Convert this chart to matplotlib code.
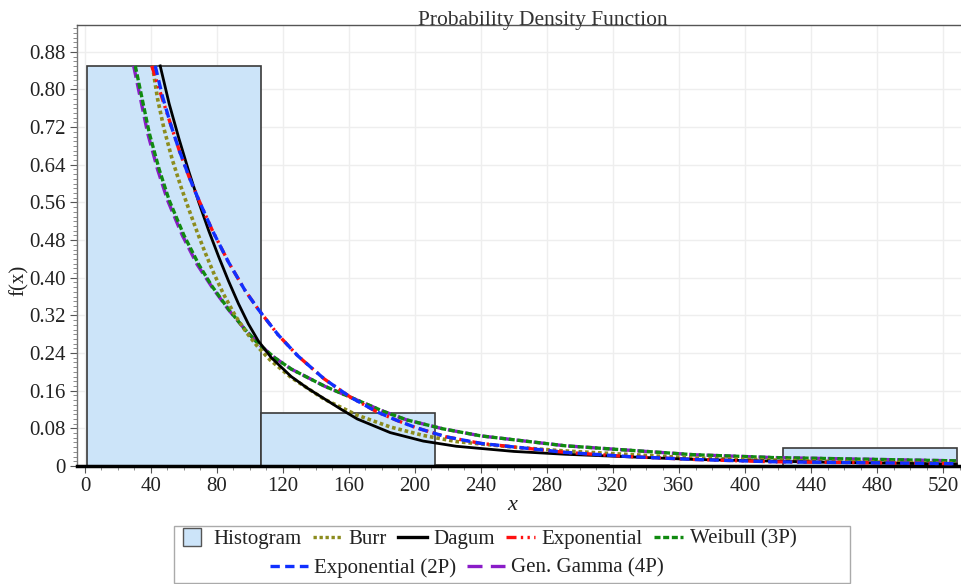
import matplotlib
matplotlib.use("Agg")
import matplotlib.pyplot as plt
from matplotlib.patches import Rectangle
from matplotlib.lines import Line2D
from matplotlib.ticker import MultipleLocator, FuncFormatter

# ---------------- data ----------------
bin_edges = [1.0, 106.5, 212.0, 317.5, 423.0, 528.5]
bin_heights = [0.850, 0.1135, 0.003, 0.0, 0.038]

burr_x = [40.9, 44, 48, 53, 58, 63, 68, 73, 78, 84, 91, 98, 105, 112, 125, 145, 165, 185, 205, 225, 260, 291, 369, 450, 528]
burr_y = [0.85, 0.78, 0.715, 0.65, 0.595, 0.545, 0.497, 0.452, 0.410, 0.365, 0.320, 0.283, 0.252, 0.226, 0.188, 0.142, 0.108, 0.083, 0.065, 0.052, 0.040, 0.032, 0.017, 0.010, 0.006]

dagum_x = [45.6, 51, 57, 63, 69, 75, 81, 87, 93, 99, 105, 113, 125, 135, 145, 155, 165, 185, 205, 225, 260, 291, 369, 450, 528]
dagum_y = [0.85, 0.77, 0.695, 0.625, 0.560, 0.500, 0.445, 0.393, 0.345, 0.302, 0.266, 0.230, 0.190, 0.165, 0.143, 0.121, 0.100, 0.071, 0.053, 0.042, 0.031, 0.025, 0.014, 0.008, 0.004]

expo_x = [40.5, 46, 52, 57, 63, 69, 77, 87, 97, 105, 117, 129, 145, 161, 177, 189, 201, 219, 240, 291, 330, 369, 417, 528]
expo_y = [0.85, 0.79, 0.725, 0.672, 0.615, 0.565, 0.502, 0.433, 0.373, 0.333, 0.279, 0.234, 0.185, 0.146, 0.115, 0.097, 0.081, 0.062, 0.048, 0.029, 0.020, 0.014, 0.009, 0.005]

weib_x = [30.5, 39, 45, 51, 60, 69, 77, 87, 97, 105, 115, 125, 145, 165, 181, 195, 217, 240, 291, 369, 417, 528]
weib_y = [0.85, 0.707, 0.630, 0.565, 0.490, 0.428, 0.382, 0.333, 0.290, 0.260, 0.230, 0.206, 0.170, 0.140, 0.116, 0.098, 0.079, 0.064, 0.043, 0.024, 0.018, 0.011]

expo2_x = [42.6, 47, 52, 57, 63, 69, 77, 87, 97, 105, 117, 129, 145, 161, 177, 189, 201, 219, 240, 291, 330, 369, 417, 528]
expo2_y = [0.85, 0.785, 0.725, 0.672, 0.615, 0.565, 0.502, 0.433, 0.373, 0.333, 0.279, 0.234, 0.185, 0.146, 0.115, 0.097, 0.081, 0.062, 0.048, 0.029, 0.020, 0.014, 0.009, 0.005]

ggam_x = [29.5, 38, 44, 50, 59, 68, 77, 87, 97, 105, 115, 125, 145, 165, 181, 195, 217, 240, 291, 369, 417, 528]
ggam_y = [0.85, 0.707, 0.630, 0.565, 0.490, 0.428, 0.380, 0.332, 0.290, 0.260, 0.230, 0.206, 0.170, 0.140, 0.116, 0.098, 0.079, 0.064, 0.043, 0.024, 0.018, 0.011]

x_ticks = list(range(0, 521, 40))
y_ticks = [0, 0.08, 0.16, 0.24, 0.32, 0.40, 0.48, 0.56, 0.64, 0.72, 0.80, 0.88]

legend_row1 = ["Histogram", "Burr", "Dagum", "Exponential", "Weibull (3P)"]
legend_row2 = ["Exponential (2P)", "Gen. Gamma (4P)"]

# ---------------- style ----------------
SERIF = ["Liberation Serif", "DejaVu Serif"]
plt.rcParams["font.family"] = SERIF

fig = plt.figure(figsize=(9.62, 5.84), dpi=100)
ax = fig.add_axes([0.080, 0.202, 0.92, 0.755])

hist_face = "#cce4f9"
hist_edge = "#3a3a3a"
widths = [bin_edges[i + 1] - bin_edges[i] for i in range(len(bin_heights))]
ax.bar(bin_edges[:-1], bin_heights, width=widths, align="edge",
       color=hist_face, edgecolor=hist_edge, linewidth=1.2, zorder=2)

c_burr = "#8c8c1e"
c_dagum = "black"
c_expo = "#ff1010"
c_weib = "#108a10"
c_expo2 = "#1030ff"
c_ggam = "#8a1cc8"

ls_burr = (0, (1, 0.8))
ls_expo = (0, (3, 1.3, 0.7, 1.3, 0.7, 1.3))
ls_weib = (0, (1.8, 0.8))
ls_expo2 = (0, (2.8, 1.6))
ls_ggam = (0, (3.6, 1.6))

ax.plot(ggam_x, ggam_y, color=c_ggam, ls=ls_ggam, lw=2.4, zorder=3)
ax.plot(weib_x, weib_y, color=c_weib, ls=ls_weib, lw=2.4, zorder=4)
ax.plot(burr_x, burr_y, color=c_burr, ls=ls_burr, lw=2.6, zorder=5)
ax.plot(dagum_x, dagum_y, color=c_dagum, ls="-", lw=2.0, zorder=6)
ax.plot(expo_x, expo_y, color=c_expo, ls=ls_expo, lw=2.4, zorder=7)
ax.plot(expo2_x, expo2_y, color=c_expo2, ls=ls_expo2, lw=2.4, zorder=8)

ax.set_xlim(-4.85, 531.5)
ax.set_ylim(0, 0.9367)
ax.set_xticks(x_ticks)
ax.set_yticks(y_ticks)
ax.xaxis.set_minor_locator(MultipleLocator(10))
ax.yaxis.set_minor_locator(MultipleLocator(0.01))
ax.yaxis.set_major_formatter(FuncFormatter(lambda v, p: "0" if abs(v) < 1e-9 else f"{v:.2f}"))
ax.tick_params(axis="both", which="major", labelsize=15, length=5, color="#555555",
               direction="out", pad=3)
ax.tick_params(axis="both", which="minor", length=3, color="#777777", direction="out")
for lab in ax.get_xticklabels() + ax.get_yticklabels():
    lab.set_color("#222222")

ax.grid(True, which="major", color="#eeeeee", lw=1.0, zorder=0)
ax.set_axisbelow(True)
ax.spines["right"].set_visible(False)
ax.spines["top"].set_color("#555555")
ax.spines["top"].set_linewidth(1.0)
ax.spines["left"].set_color("#777777")
ax.spines["left"].set_linewidth(1.0)
ax.spines["bottom"].set_color("black")
ax.spines["bottom"].set_linewidth(2.5)

fig.text(0.020, 0.52, "f(x)", rotation=90, ha="center", va="center", fontsize=15, color="#222222")
fig.text(0.532, 0.135, "x", ha="center", va="center", fontsize=16, style="italic", color="#222222")
fig.text(0.5645, 1 - 24.5 / 584, "Probability Density Function", ha="center", va="baseline",
         fontsize=15.5, color="#333333")

# ---------------- legend ----------------
fig.patches.append(Rectangle((174 / 962, 1 - 583 / 584), (850 - 174) / 962, (583 - 526) / 584,
                             transform=fig.transFigure, facecolor="white",
                             edgecolor="#aaaaaa", lw=1.0, zorder=1))

row1 = [Line2D([], [], ls="none", marker="s", markersize=13.5, markerfacecolor=hist_face,
               markeredgecolor="#555555", markeredgewidth=1.0),
        Line2D([], [], color=c_burr, ls=ls_burr, lw=2.4),
        Line2D([], [], color=c_dagum, ls="-", lw=2.4),
        Line2D([], [], color=c_expo, ls=ls_expo, lw=2.4),
        Line2D([], [], color=c_weib, ls=ls_weib, lw=2.4)]
row2 = [Line2D([], [], color=c_expo2, ls=ls_expo2, lw=2.4),
        Line2D([], [], color=c_ggam, ls=(0, (4.5, 2.5)), lw=2.4)]

common = dict(frameon=False, fontsize=15, handletextpad=0.3,
              columnspacing=0.55, borderpad=0, borderaxespad=0)
leg1 = fig.legend(row1, legend_row1, ncol=5, loc="center", handlelength=1.4,
                  bbox_to_anchor=(487 / 962, 1 - 539 / 584), **common)
leg2 = fig.legend(row2, legend_row2, ncol=2, loc="center", handlelength=1.8,
                  bbox_to_anchor=(467 / 962, 1 - 568 / 584), **common)
for t in leg1.get_texts() + leg2.get_texts():
    t.set_color("#222222")

fig.savefig("out.png", dpi=100)
